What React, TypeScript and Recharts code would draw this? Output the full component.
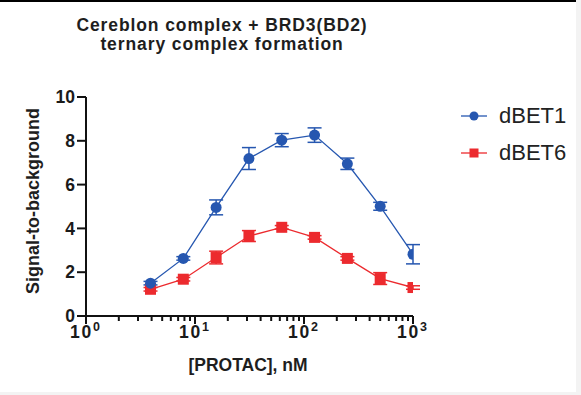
import React from 'react';
import { LineChart, Line, XAxis, YAxis, ErrorBar, Label } from 'recharts';

const conc = [3.90625, 7.8125, 15.625, 31.25, 62.5, 125, 250, 500, 1000];
const dBET1 = [1.5, 2.63, 4.96, 7.19, 8.03, 8.26, 6.95, 5.01, 2.82];
const dBET1Err = [0.08, 0.08, 0.34, 0.5, 0.3, 0.33, 0.26, 0.18, 0.44];
const dBET6 = [1.22, 1.68, 2.67, 3.65, 4.05, 3.59, 2.63, 1.71, 1.3];
const dBET6Err = [0.08, 0.08, 0.29, 0.25, 0.08, 0.08, 0.08, 0.27, 0.08];
const yTicks = [0, 2, 4, 6, 8, 10];
const majorX = [1, 10, 100, 1000];
const xTicks: number[] = [];
for (const d of [1, 10, 100]) {
  for (let m = 1; m < 10; m++) xTicks.push(d * m);
}
xTicks.push(1000);

const BLUE = '#2657b0';
const RED = '#ec2a2e';
const FONT = '"Liberation Sans", Arial, sans-serif';

const data = conc.map((c, i) => ({
  conc: c,
  dBET1: dBET1[i],
  dBET1Err: dBET1Err[i],
  dBET6: dBET6[i],
  dBET6Err: dBET6Err[i],
}));

const XTick = (props: any) => {
  const { x, y, payload } = props;
  const v = payload.value;
  const isMajor = majorX.some((m) => Math.abs(m - v) < 1e-6);
  const exp = Math.round(Math.log10(v));
  return (
    <g>
      <line x1={x} x2={x} y1={y} y2={y + (isMajor ? 8 : 5)} stroke="#111" strokeWidth={2} />
      {isMajor && (
        <text x={x - 1} y={y + 22} textAnchor="middle" fontFamily={FONT} fontWeight="bold" fontSize={17.5} letterSpacing={1.8} fill="#1a1a1a">
          <tspan>10</tspan>
          <tspan dy={-7} fontSize={12.5} letterSpacing={0}>{exp}</tspan>
        </text>
      )}
    </g>
  );
};

const SquareDot = (props: any) => {
  const { cx, cy } = props;
  if (cx == null || cy == null) return null;
  return <rect x={cx - 5.5} y={cy - 5.5} width={11} height={11} fill={RED} />;
};

const CircleDot = (props: any) => {
  const { cx, cy } = props;
  if (cx == null || cy == null) return null;
  return <circle cx={cx} cy={cy} r={5.5} fill={BLUE} />;
};

const legendItems = [
  { name: 'dBET1', color: BLUE, shape: 'circle' },
  { name: 'dBET6', color: RED, shape: 'square' },
];

export default function App() {
  return (
    <div style={{ position: 'absolute', left: 0, top: 0, width: 581, height: 395, background: '#fff', overflow: 'hidden' }}>
      <div style={{ position: 'absolute', left: 0, top: 0, width: 577, height: 2, background: '#000' }} />
      <div style={{ position: 'absolute', left: 576, top: 0, width: 5, height: 395, background: '#f3f3f3' }} />
      <div style={{ position: 'absolute', left: 0, top: 392, width: 581, height: 3, background: '#f3f3f3' }} />
      <div
        style={{
          position: 'absolute',
          left: 22,
          top: 16,
          width: 400,
          textAlign: 'center',
          fontFamily: FONT,
          fontWeight: 'bold',
          fontSize: 17.5,
          letterSpacing: '0.9px',
          lineHeight: '18.5px',
          color: '#1e1e1e',
        }}
      >
        <div>Cereblon complex + BRD3(BD2)</div>
        <div>ternary complex formation</div>
      </div>
      <div style={{ position: 'absolute', left: 461, top: 97, fontFamily: FONT, fontSize: 22, color: '#222' }}>
        {legendItems.map((it) => (
          <div key={it.name} style={{ display: 'flex', alignItems: 'center', height: 37 }}>
            <svg width={26} height={14} style={{ marginRight: 12 }}>
              <line x1={0} x2={26} y1={7} y2={7} stroke={it.color} strokeWidth={1.3} />
              {it.shape === 'circle' ? (
                <circle cx={13} cy={7} r={4.5} fill={it.color} />
              ) : (
                <rect x={8.5} y={2.5} width={9} height={9} fill={it.color} />
              )}
            </svg>
            <span>{it.name}</span>
          </div>
        ))}
      </div>
      <LineChart
        width={581}
        height={395}
        data={data}
        margin={{ top: 97, right: 168, bottom: 19, left: 0 }}
      >
        <XAxis
          dataKey="conc"
          type="number"
          scale="log"
          domain={[1, 1000]}
          ticks={xTicks}
          interval={0}
          allowDataOverflow
          height={60}
          tickSize={0}
          tickMargin={0}
          tickLine={false}
          tick={<XTick />}
          axisLine={{ stroke: '#111', strokeWidth: 2 }}
        >
          <Label
            content={() => (
              <text x={248} y={371} textAnchor="middle" fontFamily={FONT} fontWeight="bold" fontSize={17.5} fill="#1e1e1e">
                [PROTAC], nM
              </text>
            )}
          />
        </XAxis>
        <YAxis
          type="number"
          domain={[0, 10]}
          ticks={yTicks}
          interval={0}
          allowDataOverflow
          width={86}
          tickSize={9}
          tickMargin={2}
          tickLine={{ stroke: '#111', strokeWidth: 2 }}
          axisLine={{ stroke: '#111', strokeWidth: 2 }}
          tick={{ fontFamily: FONT, fontWeight: 'bold', fontSize: 17.5, fill: '#1a1a1a' }}
        >
          <Label
            content={() => (
              <text
                x={39}
                y={201}
                transform="rotate(-90 39 201)"
                textAnchor="middle"
                fontFamily={FONT}
                fontWeight="bold"
                fontSize={18}
                fill="#1e1e1e"
              >
                Signal-to-background
              </text>
            )}
          />
        </YAxis>
        <Line
          dataKey="dBET6"
          name="dBET6"
          stroke={RED}
          strokeWidth={1.3}
          dot={<SquareDot />}
          clipDot
          activeDot={false}
          isAnimationActive={false}
        >
          <ErrorBar dataKey="dBET6Err" direction="y" width={7} stroke={RED} strokeWidth={1.5} />
        </Line>
        <Line
          dataKey="dBET1"
          name="dBET1"
          stroke={BLUE}
          strokeWidth={1.3}
          dot={<CircleDot />}
          clipDot
          activeDot={false}
          isAnimationActive={false}
        >
          <ErrorBar dataKey="dBET1Err" direction="y" width={7} stroke={BLUE} strokeWidth={1.5} />
        </Line>
      </LineChart>
    </div>
  );
}
